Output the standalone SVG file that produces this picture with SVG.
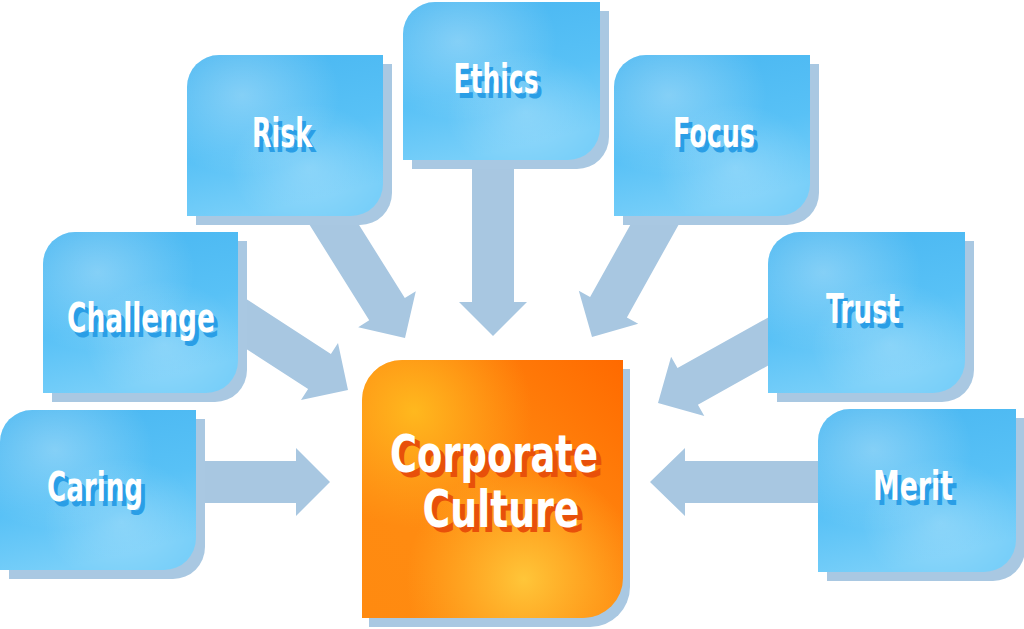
<svg xmlns="http://www.w3.org/2000/svg" width="1024" height="629" viewBox="0 0 1024 629">
<defs>
<linearGradient id="blueBase" x1="0" y1="0" x2="0.3" y2="1">
<stop offset="0" stop-color="#48b6f1"/>
<stop offset="0.6" stop-color="#58c1f6"/>
<stop offset="1" stop-color="#78cff9"/>
</linearGradient>
<radialGradient id="blueHi" cx="0.28" cy="0.25" r="0.5">
<stop offset="0" stop-color="#ffffff" stop-opacity="0.3"/>
<stop offset="1" stop-color="#ffffff" stop-opacity="0"/>
</radialGradient>
<radialGradient id="blueHi2" cx="0.62" cy="0.7" r="0.4">
<stop offset="0" stop-color="#ffffff" stop-opacity="0.22"/>
<stop offset="1" stop-color="#ffffff" stop-opacity="0"/>
</radialGradient>
<linearGradient id="orangeBase" x1="1" y1="0" x2="0" y2="1">
<stop offset="0" stop-color="#ff6a00"/>
<stop offset="0.5" stop-color="#ff8c12"/>
<stop offset="1" stop-color="#ff8a10"/>
</linearGradient>
<radialGradient id="orangeHi" cx="0.2" cy="0.2" r="0.45">
<stop offset="0" stop-color="#ffc020" stop-opacity="0.85"/>
<stop offset="1" stop-color="#ffb020" stop-opacity="0"/>
</radialGradient>
<radialGradient id="orangeHi2" cx="0.62" cy="0.85" r="0.45">
<stop offset="0" stop-color="#ffd040" stop-opacity="0.85"/>
<stop offset="1" stop-color="#ffc030" stop-opacity="0"/>
</radialGradient>
<style>
.sh{fill:#a9c8e2}
.arrow{fill:#a8c7e1}
.b0{fill:url(#blueBase)}
.b1{fill:url(#blueHi)}
.b2{fill:url(#blueHi2)}
.lbl{font-family:"Liberation Sans Narrow","DejaVu Sans Condensed","Liberation Sans",sans-serif;font-weight:bold;text-anchor:middle;font-size:40px}
.big{font-size:52px}
.fg{fill:#ffffff}
.bs{fill:#2a9ee6}
.os{fill:#e8500a}
</style>
</defs>
<rect width="1024" height="629" fill="#ffffff"/>

<g id="connectors">
<polygon class="arrow" points="472,150 472,302 459,302 493,336 527,302 514,302 514,150"/>
<polygon class="arrow" points="327.8,174.9 404.8,298.1 415.8,291.2 405,338 358.2,327.2 369.2,320.3 292.2,197.1"/>
<polygon class="arrow" points="238.6,294.1 330.9,353.9 338,343 348,390 301,400 308.1,389.1 215.8,329.3"/>
<polygon class="arrow" points="190,461 296,461 296,448 330,482 296,516 296,503 190,503"/>
<polygon class="arrow" points="680.4,221.4 626.9,317.5 638.2,323.8 592,337 578.8,290.8 590.1,297.1 643.6,201"/>
<polygon class="arrow" points="793.9,351.1 697.9,404.7 704.3,416.1 658,403 671.1,356.7 677.5,368.1 773.5,314.5"/>
<polygon class="arrow" points="830,461 685,461 685,448 650,482 685,516 685,503 830,503"/>
</g>

<g id="risk">
<path class="sh" transform="translate(9,9)" d="M219,55 H383 V184 A32 32 0 0 1 351,216 H187 V87 A32 32 0 0 1 219,55 Z"/>
<path class="b0" d="M219,55 H383 V184 A32 32 0 0 1 351,216 H187 V87 A32 32 0 0 1 219,55 Z"/>
<path class="b1" d="M219,55 H383 V184 A32 32 0 0 1 351,216 H187 V87 A32 32 0 0 1 219,55 Z"/>
<path class="b2" d="M219,55 H383 V184 A32 32 0 0 1 351,216 H187 V87 A32 32 0 0 1 219,55 Z"/>
<text class="lbl bs" x="286" y="152" textLength="60" lengthAdjust="spacingAndGlyphs">Risk</text>
<text class="lbl fg" x="282" y="147" textLength="60" lengthAdjust="spacingAndGlyphs">Risk</text>
</g>

<g id="ethics">
<path class="sh" transform="translate(9,9)" d="M435,2 H600 V128 A32 32 0 0 1 568,160 H403 V34 A32 32 0 0 1 435,2 Z"/>
<path class="b0" d="M435,2 H600 V128 A32 32 0 0 1 568,160 H403 V34 A32 32 0 0 1 435,2 Z"/>
<path class="b1" d="M435,2 H600 V128 A32 32 0 0 1 568,160 H403 V34 A32 32 0 0 1 435,2 Z"/>
<path class="b2" d="M435,2 H600 V128 A32 32 0 0 1 568,160 H403 V34 A32 32 0 0 1 435,2 Z"/>
<text class="lbl bs" x="500" y="98" textLength="85" lengthAdjust="spacingAndGlyphs">Ethics</text>
<text class="lbl fg" x="496" y="93" textLength="85" lengthAdjust="spacingAndGlyphs">Ethics</text>
</g>

<g id="focus">
<path class="sh" transform="translate(9,9)" d="M646,55 H810 V184 A32 32 0 0 1 778,216 H614 V87 A32 32 0 0 1 646,55 Z"/>
<path class="b0" d="M646,55 H810 V184 A32 32 0 0 1 778,216 H614 V87 A32 32 0 0 1 646,55 Z"/>
<path class="b1" d="M646,55 H810 V184 A32 32 0 0 1 778,216 H614 V87 A32 32 0 0 1 646,55 Z"/>
<path class="b2" d="M646,55 H810 V184 A32 32 0 0 1 778,216 H614 V87 A32 32 0 0 1 646,55 Z"/>
<text class="lbl bs" x="718" y="152" textLength="82" lengthAdjust="spacingAndGlyphs">Focus</text>
<text class="lbl fg" x="714" y="147" textLength="82" lengthAdjust="spacingAndGlyphs">Focus</text>
</g>

<g id="challenge">
<path class="sh" transform="translate(9,9)" d="M75,232 H238 V361 A32 32 0 0 1 206,393 H43 V264 A32 32 0 0 1 75,232 Z"/>
<path class="b0" d="M75,232 H238 V361 A32 32 0 0 1 206,393 H43 V264 A32 32 0 0 1 75,232 Z"/>
<path class="b1" d="M75,232 H238 V361 A32 32 0 0 1 206,393 H43 V264 A32 32 0 0 1 75,232 Z"/>
<path class="b2" d="M75,232 H238 V361 A32 32 0 0 1 206,393 H43 V264 A32 32 0 0 1 75,232 Z"/>
<text class="lbl bs" x="145" y="337" textLength="148" lengthAdjust="spacingAndGlyphs">Challenge</text>
<text class="lbl fg" x="141" y="332" textLength="148" lengthAdjust="spacingAndGlyphs">Challenge</text>
</g>

<g id="trust">
<path class="sh" transform="translate(9,9)" d="M800,232 H965 V361 A32 32 0 0 1 933,393 H768 V264 A32 32 0 0 1 800,232 Z"/>
<path class="b0" d="M800,232 H965 V361 A32 32 0 0 1 933,393 H768 V264 A32 32 0 0 1 800,232 Z"/>
<path class="b1" d="M800,232 H965 V361 A32 32 0 0 1 933,393 H768 V264 A32 32 0 0 1 800,232 Z"/>
<path class="b2" d="M800,232 H965 V361 A32 32 0 0 1 933,393 H768 V264 A32 32 0 0 1 800,232 Z"/>
<text class="lbl bs" x="867" y="328" textLength="74" lengthAdjust="spacingAndGlyphs">Trust</text>
<text class="lbl fg" x="863" y="323" textLength="74" lengthAdjust="spacingAndGlyphs">Trust</text>
</g>

<g id="caring">
<path class="sh" transform="translate(9,9)" d="M32,410 H196 V538 A32 32 0 0 1 164,570 H0 V442 A32 32 0 0 1 32,410 Z"/>
<path class="b0" d="M32,410 H196 V538 A32 32 0 0 1 164,570 H0 V442 A32 32 0 0 1 32,410 Z"/>
<path class="b1" d="M32,410 H196 V538 A32 32 0 0 1 164,570 H0 V442 A32 32 0 0 1 32,410 Z"/>
<path class="b2" d="M32,410 H196 V538 A32 32 0 0 1 164,570 H0 V442 A32 32 0 0 1 32,410 Z"/>
<text class="lbl bs" x="99" y="506" textLength="96" lengthAdjust="spacingAndGlyphs">Caring</text>
<text class="lbl fg" x="95" y="501" textLength="96" lengthAdjust="spacingAndGlyphs">Caring</text>
</g>

<g id="merit">
<path class="sh" transform="translate(9,9)" d="M850,409 H1016 V540 A32 32 0 0 1 984,572 H818 V441 A32 32 0 0 1 850,409 Z"/>
<path class="b0" d="M850,409 H1016 V540 A32 32 0 0 1 984,572 H818 V441 A32 32 0 0 1 850,409 Z"/>
<path class="b1" d="M850,409 H1016 V540 A32 32 0 0 1 984,572 H818 V441 A32 32 0 0 1 850,409 Z"/>
<path class="b2" d="M850,409 H1016 V540 A32 32 0 0 1 984,572 H818 V441 A32 32 0 0 1 850,409 Z"/>
<text class="lbl bs" x="917" y="505" textLength="80" lengthAdjust="spacingAndGlyphs">Merit</text>
<text class="lbl fg" x="913" y="500" textLength="80" lengthAdjust="spacingAndGlyphs">Merit</text>
</g>

<g id="corporate-culture">
<path class="sh" transform="translate(7,9)" d="M402,360 H623 V578 A40 40 0 0 1 583,618 H362 V400 A40 40 0 0 1 402,360 Z"/>
<path fill="url(#orangeBase)" d="M402,360 H623 V578 A40 40 0 0 1 583,618 H362 V400 A40 40 0 0 1 402,360 Z"/>
<path fill="url(#orangeHi)" d="M402,360 H623 V578 A40 40 0 0 1 583,618 H362 V400 A40 40 0 0 1 402,360 Z"/>
<path fill="url(#orangeHi2)" d="M402,360 H623 V578 A40 40 0 0 1 583,618 H362 V400 A40 40 0 0 1 402,360 Z"/>
<text class="lbl big os" x="499" y="477" textLength="208" lengthAdjust="spacingAndGlyphs">Corporate</text>
<text class="lbl big fg" x="494" y="472" textLength="208" lengthAdjust="spacingAndGlyphs">Corporate</text>
<text class="lbl big os" x="506" y="532" textLength="157" lengthAdjust="spacingAndGlyphs">Culture</text>
<text class="lbl big fg" x="501" y="527" textLength="157" lengthAdjust="spacingAndGlyphs">Culture</text>
</g>
</svg>
